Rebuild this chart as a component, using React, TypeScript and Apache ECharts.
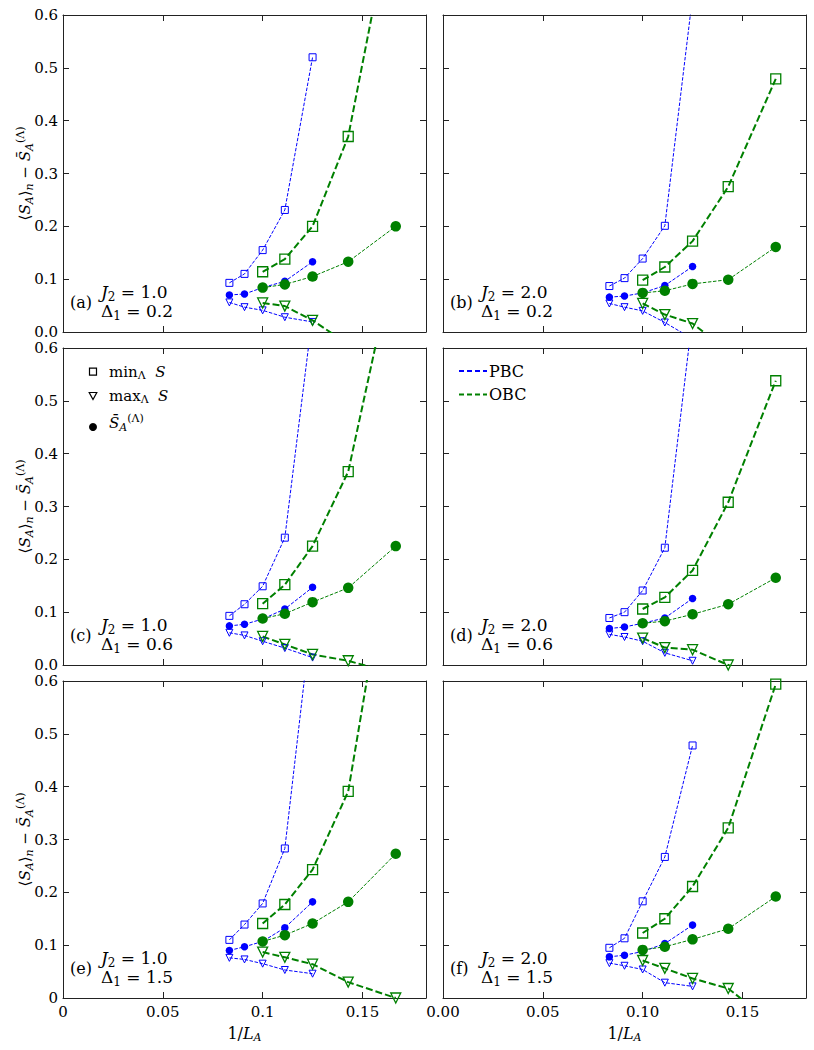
import React, { useEffect, useRef } from "react";
import * as echarts from "echarts";

// ---------- data ----------
const LA_PBC = [12, 11, 10, 9, 8];
const LA_OBC = [10, 9, 8, 7, 6];

const PANEL_LABELS = ["(a)", "(b)", "(c)", "(d)", "(e)", "(f)"];
const J2_VALUES = ["1.0", "2.0", "1.0", "2.0", "1.0", "2.0"];
const D1_VALUES = ["0.2", "0.2", "0.6", "0.6", "1.5", "1.5"];

const Y_TICKS_STD = ["0.0", "0.1", "0.2", "0.3", "0.4", "0.5", "0.6"];
const Y_TICKS_E = ["0", "0.1", "0.2", "0.3", "0.4", "0.5", "0.6"];
const X_TICKS_E = ["0", "0.05", "0.1", "0.15"];
const X_TICKS_F = ["0.00", "0.05", "0.10", "0.15"];

// (a) J2=1.0, D1=0.2
const aPbcMin = [0.093, 0.11, 0.155, 0.231, 0.52];
const aPbcMax = [0.056, 0.047, 0.041, 0.028, 0.019];
const aPbcMean = [0.07, 0.072, 0.084, 0.096, 0.133];
const aObcMin = [0.114, 0.138, 0.2, 0.37, 0.83];
const aObcMax = [0.055, 0.049, 0.022, -0.023, -0.065];
const aObcMean = [0.084, 0.09, 0.105, 0.133, 0.2];
// (b) J2=2.0, D1=0.2
const bPbcMin = [0.087, 0.102, 0.139, 0.201, 0.635];
const bPbcMax = [0.054, 0.047, 0.04, 0.018, -0.013];
const bPbcMean = [0.066, 0.068, 0.074, 0.088, 0.124];
const bObcMin = [0.098, 0.123, 0.172, 0.275, 0.479];
const bObcMax = [0.054, 0.033, 0.016, -0.036, -0.08];
const bObcMean = [0.074, 0.078, 0.091, 0.099, 0.161];
// (c) J2=1.0, D1=0.6
const cPbcMin = [0.093, 0.115, 0.149, 0.241, 0.664];
const cPbcMax = [0.061, 0.056, 0.045, 0.032, 0.014];
const cPbcMean = [0.074, 0.077, 0.087, 0.106, 0.147];
const cObcMin = [0.116, 0.152, 0.225, 0.366, 0.78];
const cObcMax = [0.054, 0.039, 0.02, 0.008, -0.017];
const cObcMean = [0.088, 0.097, 0.119, 0.146, 0.225];
// (d) J2=2.0, D1=0.6
const dPbcMin = [0.089, 0.1, 0.141, 0.222, 0.66];
const dPbcMax = [0.058, 0.053, 0.045, 0.023, 0.008];
const dPbcMean = [0.069, 0.072, 0.079, 0.089, 0.126];
const dObcMin = [0.106, 0.128, 0.179, 0.308, 0.538];
const dObcMax = [0.051, 0.033, 0.029, 0.0, -0.04];
const dObcMean = [0.079, 0.083, 0.096, 0.115, 0.165];
// (e) J2=1.0, D1=1.5
const ePbcMin = [0.11, 0.139, 0.179, 0.283, 0.737];
const ePbcMax = [0.076, 0.073, 0.065, 0.053, 0.046];
const ePbcMean = [0.09, 0.097, 0.107, 0.133, 0.182];
const eObcMin = [0.141, 0.177, 0.243, 0.391, 0.926];
const eObcMax = [0.087, 0.077, 0.064, 0.03, 0.0];
const eObcMean = [0.107, 0.119, 0.141, 0.182, 0.273];
// (f) J2=2.0, D1=1.5
const fPbcMin = [0.095, 0.113, 0.183, 0.267, 0.478];
const fPbcMax = [0.066, 0.061, 0.054, 0.029, 0.022];
const fPbcMean = [0.078, 0.081, 0.088, 0.103, 0.138];
const fObcMin = [0.123, 0.15, 0.211, 0.322, 0.594];
const fObcMax = [0.071, 0.056, 0.037, 0.018, -0.053];
const fObcMean = [0.091, 0.097, 0.111, 0.131, 0.192];

const PANELS = [
  [aPbcMin, aPbcMax, aPbcMean, aObcMin, aObcMax, aObcMean],
  [bPbcMin, bPbcMax, bPbcMean, bObcMin, bObcMax, bObcMean],
  [cPbcMin, cPbcMax, cPbcMean, cObcMin, cObcMax, cObcMean],
  [dPbcMin, dPbcMax, dPbcMean, dObcMin, dObcMax, dObcMean],
  [ePbcMin, ePbcMax, ePbcMean, eObcMin, eObcMax, eObcMean],
  [fPbcMin, fPbcMax, fPbcMean, fObcMin, fObcMax, fObcMean],
];

// ---------- style ----------
const BLUE = "#0000ff";
const GREEN = "#008000";
const AX = "#222222";
const FONT = "DejaVu Serif";
const X_MAX = 1 / 5.5;
const GRID_LEFTS = [63, 443];
const GRID_TOPS = [15, 348, 681];
const GRID_W = 363;
const GRID_H = 317;

// main font, small font, line height, subscript drop, superscript rise
function richStyles(main: number, small: number, lh: number, down: number, up: number) {
  const base = { fontFamily: FONT, fill: "#000", color: "#000", lineHeight: lh };
  return {
    n: { ...base, fontSize: main },
    i: { ...base, fontSize: main, fontStyle: "italic" },
    s: { ...base, fontSize: small, padding: [2 * down, 0, 0, 0] },
    si: { ...base, fontSize: small, fontStyle: "italic", padding: [2 * down, 0, 0, 0] },
    p: { ...base, fontSize: small, padding: [0, 0, 2 * up, 0] },
  };
}

function textEl(x: number, y: number, text: string, rich: any, align = "left", rotation = 0) {
  return {
    type: "text",
    x,
    y,
    rotation,
    silent: true,
    style: {
      text,
      rich,
      fill: "#000",
      fontFamily: FONT,
      fontSize: 16,
      align,
      textAlign: align,
      verticalAlign: "middle",
      textVerticalAlign: "middle",
    },
  };
}

function buildOption() {
  const grid: any[] = [];
  const xAxis: any[] = [];
  const yAxis: any[] = [];
  const series: any[] = [];
  const graphic: any[] = [];

  PANELS.forEach((vals, i) => {
    const col = i % 2;
    const row = Math.floor(i / 2);
    const left = GRID_LEFTS[col];
    const top = GRID_TOPS[row];
    grid.push({ left, top, width: GRID_W, height: GRID_H, containLabel: false, outerBoundsMode: "none" });

    const xLabels = i === 4 ? X_TICKS_E : X_TICKS_F;
    const yLabels = i === 4 ? Y_TICKS_E : Y_TICKS_STD;
    const common = {
      type: "value",
      gridIndex: i,
      splitLine: { show: false },
      axisLine: { show: true, onZero: false, lineStyle: { color: AX, width: 1 } },
      axisTick: { show: true, inside: true, length: 6, lineStyle: { color: AX, width: 1 } },
    };
    xAxis.push({
      ...common,
      position: "bottom",
      min: 0,
      max: X_MAX,
      interval: 0.05,
      axisLabel: {
        show: row === 2,
        showMaxLabel: false,
        margin: 6,
        color: "#000",
        fontFamily: FONT,
        fontSize: 15,
        formatter: (v: number) => {
          const k = Math.round(v / 0.05);
          return Math.abs(v - k * 0.05) < 1e-6 && xLabels[k] !== undefined ? xLabels[k] : "";
        },
      },
    });
    xAxis.push({
      ...common,
      position: "top",
      min: 0,
      max: X_MAX,
      interval: 0.05,
      axisLabel: { show: false },
    });
    yAxis.push({
      ...common,
      position: "left",
      min: 0,
      max: 0.6,
      interval: 0.1,
      axisLabel: {
        show: col === 0,
        margin: 5,
        color: "#000",
        fontFamily: FONT,
        fontSize: 15,
        formatter: (v: number) => yLabels[Math.round(v / 0.1)] ?? "",
      },
    });
    yAxis.push({
      ...common,
      position: "right",
      min: 0,
      max: 0.6,
      interval: 0.1,
      axisLabel: { show: false },
    });

    const kinds = ["min", "max", "mean", "min", "max", "mean"];
    vals.forEach((ys, s) => {
      const obc = s >= 3;
      const kind = kinds[s];
      const color = obc ? GREEN : BLUE;
      const thick = obc && kind !== "mean";
      const Ls = obc ? LA_OBC : LA_PBC;
      const symbol = kind === "min" ? "rect" : kind === "max" ? "triangle" : "circle";
      const size = obc ? (kind === "mean" ? 10.5 : 10) : kind === "mean" ? 7.5 : 7;
      series.push({
        type: "line",
        xAxisIndex: 2 * i,
        yAxisIndex: 2 * i,
        data: Ls.map((L, k) => [1 / L, ys[k]]),
        symbol,
        symbolSize: size,
        symbolRotate: kind === "max" ? 180 : 0,
        showSymbol: true,
        showAllSymbol: true,
        clip: true,
        silent: true,
        animation: false,
        emphasis: { disabled: true },
        lineStyle: { color, width: thick ? 2 : 1, type: thick ? [7, 3] : [3.5, 1.6] },
        itemStyle:
          kind === "mean"
            ? { color, borderWidth: 0 }
            : { color: "rgba(0,0,0,0)", borderColor: color, borderWidth: obc ? 1.3 : 1 },
      });
    });

    // panel annotations
    const bottom = top + GRID_H;
    const r = richStyles(17, 12, 19, 4.5, 5);
    graphic.push(textEl(left + 7, bottom - 30, `{n|${PANEL_LABELS[i]}}`, richStyles(16, 12, 18, 4.5, 5)));
    graphic.push(textEl(left + 38, bottom - 40, `{i|J}{s|2}{n| = ${J2_VALUES[i]}}`, r));
    graphic.push(textEl(left + 38, bottom - 21, `{n|Δ}{s|1}{n| = ${D1_VALUES[i]}}`, r));

    // axis titles
    const ry = richStyles(15, 11, 18, 4, 5);
    if (col === 0) {
      graphic.push(
        textEl(
          25,
          top + GRID_H / 2,
          "{n|⟨}{i|S}{si|A}{n|⟩}{si|n}{n| − }{i|S\u0304}{si|A}{p|(Λ)}",
          ry,
          "center",
          Math.PI / 2
        )
      );
    }
    if (row === 2) {
      graphic.push(textEl(left + GRID_W / 2, 1033, "{n|1/}{i|L}{si|A}", richStyles(16, 11, 18, 4, 5), "center"));
    }
  });

  // legend in (c): marker shapes
  const lr = richStyles(15, 11, 18, 4, 5);
  graphic.push({
    type: "rect",
    silent: true,
    shape: { x: 89.5, y: 368.2, width: 7, height: 7 },
    style: { fill: "none", stroke: "#000", lineWidth: 1.2 },
  });
  graphic.push({
    type: "polygon",
    silent: true,
    shape: { points: [[89.2, 392.5], [96.8, 392.5], [93, 399.5]] },
    style: { fill: "none", stroke: "#000", lineWidth: 1.2 },
  });
  graphic.push({
    type: "circle",
    silent: true,
    shape: { cx: 93, cy: 427, r: 4 },
    style: { fill: "#000" },
  });
  graphic.push(textEl(109, 371.5, "{n|min}{s|Λ}{n|  }{i|S}", lr));
  graphic.push(textEl(109, 395.5, "{n|max}{s|Λ}{n|  }{i|S}", lr));
  graphic.push(textEl(109, 423, "{i|S\u0304}{si|A}{p|(Λ)}", lr));

  // legend in (d): boundary conditions
  graphic.push({
    type: "line",
    silent: true,
    shape: { x1: 459, y1: 371, x2: 487, y2: 371 },
    style: { stroke: BLUE, lineWidth: 2, lineDash: [5, 3] },
  });
  graphic.push({
    type: "line",
    silent: true,
    shape: { x1: 459, y1: 394.5, x2: 487, y2: 394.5 },
    style: { stroke: GREEN, lineWidth: 2, lineDash: [5, 3] },
  });
  graphic.push(textEl(489, 371, "{n|PBC}", richStyles(16, 11, 18, 4, 5)));
  graphic.push(textEl(489, 394.5, "{n|OBC}", richStyles(16, 11, 18, 4, 5)));

  return {
    animation: false,
    backgroundColor: "#ffffff",
    textStyle: { fontFamily: FONT },
    grid,
    xAxis,
    yAxis,
    series,
    graphic,
  };
}

export default function App() {
  const ref = useRef<HTMLDivElement>(null);
  useEffect(() => {
    document.body.style.margin = "0";
    if (!ref.current) return;
    const chart = echarts.init(ref.current, undefined, { renderer: "svg" });
    chart.setOption(buildOption() as any);
    return () => chart.dispose();
  }, []);
  return <div ref={ref} style={{ width: 814, height: 1050 }} />;
}
